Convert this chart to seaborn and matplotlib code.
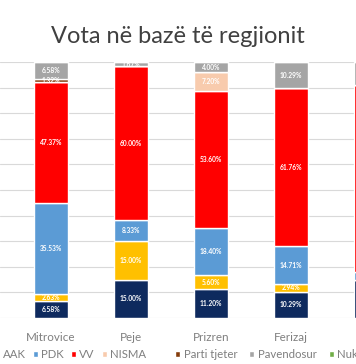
import numpy as np
import pandas as pd
import seaborn as sns
import matplotlib.pyplot as plt

# regions shown (the last one is cut off at the right edge)
regions = ["Mitrovice", "Peje", "Prizren", "Ferizaj", "Gjilan"]

# vote share per party (%), bottom to top
ldk = [6.58, 15.00, 11.20, 10.29, 15.0]
aak = [2.63, 15.00, 5.60, 2.94, 0.0]
pdk = [35.53, 8.33, 18.40, 14.71, 3.0]
vv = [47.37, 60.00, 53.60, 61.76, 73.0]
nisma = [0.0, 0.0, 7.20, 0.0, 0.0]
tjeter = [1.32, 0.0, 0.0, 0.0, 0.0]
pavendosur = [6.58, 1.67, 4.00, 10.29, 9.0]
nuk = [0.0, 0.0, 0.0, 0.0, 0.0]

parties = ["LDK", "AAK", "PDK", "VV", "NISMA", "Parti tjeter", "Pavendosur", "Nuk votoj"]
values = [ldk, aak, pdk, vv, nisma, tjeter, pavendosur, nuk]
colors = ["#0E2A5E", "#FFC000", "#5B9BD5", "#FF0000", "#F8CBAD", "#843C0C", "#A5A5A5", "#70AD47"]

sns.set_theme(style="white")
plt.rcParams['font.family'] = ['Lato', 'DejaVu Sans']

fig = plt.figure(figsize=(3.56, 3.64), dpi=100)
ax = fig.add_axes([0, 0.1264, 1, 0.7033])

df = pd.DataFrame(dict(zip(parties, values)), index=regions)

bottom = np.zeros(len(regions))
for party, col in zip(parties, colors):
    vals = df[party].values
    sns.barplot(x=regions, y=vals, bottom=bottom, color=col, width=0.42,
                saturation=1, label=party, ax=ax, zorder=3)
    for i, (v, b) in enumerate(zip(vals, bottom)):
        # the last region is cut off, its labels are out of view
        if v > 0 and i < 4:
            ax.text(i, b + v / 2, f"{v:.2f}%", ha='center', va='center',
                    color='white', fontsize=4.8, fontweight='bold', zorder=4)
    bottom += vals

ax.set_ylim(0, 100)
ax.set_xlim(-51 / 80, (356 - 51) / 80)
ax.set_yticks(np.arange(0, 101, 10))
ax.yaxis.grid(True, color="#D9D9D9", linewidth=0.8, zorder=0)
ax.set_axisbelow(True)
for s in ax.spines.values():
    s.set_visible(False)
ax.tick_params(axis='y', left=False, labelleft=False)
ax.tick_params(axis='x', bottom=False, labelsize=8.4, labelcolor="#7F7F7F", pad=4)
ax.set_xlabel("")
ax.set_ylabel("")
if ax.legend_:
    ax.legend_.remove()

# legend runs past both edges of the picture, as in the reference crop
handles, labels = ax.get_legend_handles_labels()
leg_kw = dict(loc='center left', frameon=False, fontsize=8.2, labelcolor="#7F7F7F",
              handlelength=0.45, handleheight=0.45, handletextpad=0.3,
              borderpad=0, borderaxespad=0)
fig.legend(handles[:5], labels[:5], ncol=5, columnspacing=0.6,
           bbox_to_anchor=(-43 / 356, 0.025), **leg_kw)
fig.legend(handles[5:], labels[5:], ncol=3, columnspacing=1.05,
           bbox_to_anchor=(175 / 356, 0.025), **leg_kw)

fig.text(0.5, 0.9, "Vota në bazë të regjionit", ha='center', va='center',
         fontsize=17, color="#404040")

fig.savefig("out.png", dpi=100)
